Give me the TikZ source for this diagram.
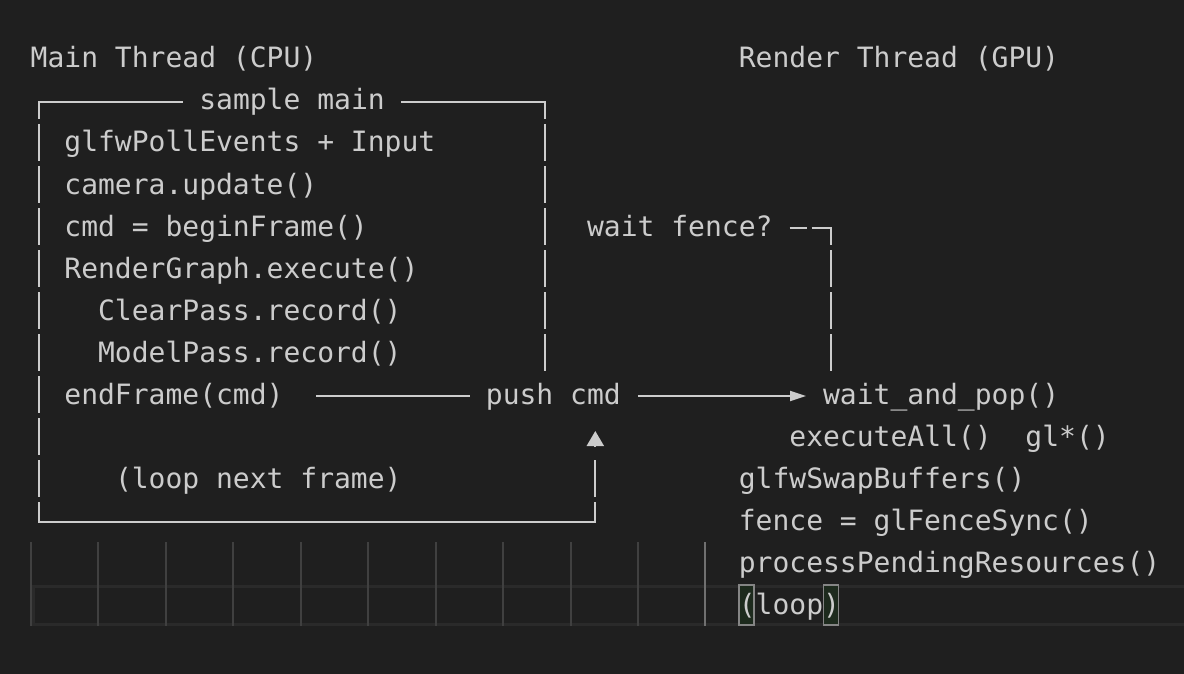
\documentclass[tikz,border=0pt]{standalone}
\usepackage{fontspec}
\setmonofont{DejaVu Sans Mono}
\usetikzlibrary{arrows.meta}

\definecolor{editorbg}{HTML}{1F1F1F}
\definecolor{codefg}{HTML}{CCCCCC}
\definecolor{guide}{HTML}{404040}
\definecolor{guideon}{HTML}{707070}
\definecolor{curline}{HTML}{2A2A2A}
\definecolor{matchbg}{HTML}{1D2A1D}
\definecolor{matchbd}{HTML}{858585}

\newlength\charw \setlength\charw{16.86pt}

\tikzset{
  code/.style={anchor=base west, inner sep=0pt, text=codefg,
    font=\ttfamily\fontsize{28}{42}\selectfont\frenchspacing},
  wire/.style={draw=codefg, line width=2pt, line cap=rect},
  vbar/.style={draw=codefg, line width=2pt, dash pattern=on 37pt off 5pt,
    dash phase=20pt},
  headtip/.style={-{Triangle[length=16pt,width=10pt]}},
  uptip/.style={draw=codefg, line width=2pt, -{Triangle[length=15pt,width=17pt]}}
}

\begin{document}
\begin{tikzpicture}[x=1pt,y=-1pt]
\fill[editorbg] (0,0) rectangle (1184,674);
\useasboundingbox (0,0) rectangle (1184,674);

% editor marks: current line, indent guides, matched brackets
\draw[curline, line width=3pt] (33.5,586) rectangle (1190,624);
\foreach \k in {0,...,9}
  \draw[guide, line width=2pt] ({31+67.44*\k},542) -- ({31+67.44*\k},626);
\draw[guideon, line width=2pt] (705.4,542) -- (705.4,626);
\foreach \c in {42,47}
  \draw[matchbd, fill=matchbg, line width=1.5pt]
    ({30.5+\c*16.86+.5},585) rectangle ({30.5+(\c+1)*16.86-1.5},625);

\foreach \col/\row/\nm/\txt in
{
0/0/mainhd/{Main Thread (CPU)}, 42/0/renderhd/{Render Thread (GPU)},
10/1/title/{sample main},
2/2/poll/{glfwPollEvents + Input}, 2/3/cam/{camera.update()},
2/4/begin/{cmd = beginFrame()}, 33/4/fence/{wait fence?},
2/5/graph/{RenderGraph.execute()}, 4/6/clear/{ClearPass.record()},
4/7/model/{ModelPass.record()},
2/8/endf/{endFrame(cmd)}, 27/8/push/{push cmd}, 47/8/pop/{wait\_and\_pop()},
45/9/exec/{executeAll()}, 59/9/glcall/{gl*()},
5/10/nextf/{(loop next frame)}, 42/10/swap/{glfwSwapBuffers()},
42/11/sync/{fence = glFenceSync()},
42/12/pending/{processPendingResources()},
42/13/again/{(loop)}
}
  \node[code] (\nm) at ({30.5+\col*16.86},{68+\row*42}) {\txt};

% sample main frame
\coordinate (tl) at (38.9,102);
\coordinate (tr) at (544.7,102);
\coordinate (trb) at (544.7,371);
\coordinate (bl) at (38.9,522);
\coordinate (br) at (595.3,522);
\coordinate (ret) at (595.3,460);
\draw[wire] (tl) -- ([xshift=-\charw, yshift=8pt]title.base west);
\draw[wire] ([xshift=\charw, yshift=8pt]title.base east) -- (tr);
\draw[vbar] (tl) -- (bl);
\draw[vbar] (tr) -- (trb);
\draw[wire] (bl) -- (br);
\draw[vbar, dash phase=17pt] (br) -- (ret);
\draw[uptip] ([yshift=13pt]ret) -- ([yshift=29pt]ret);

% queue
\draw[wire] ([xshift=2*\charw, yshift=8pt]endf.base east)
  -- ([xshift=-\charw, yshift=8pt]push.base west);
\draw[wire, line cap=butt, headtip] ([xshift=\charw, yshift=8pt]push.base east)
  -- ([xshift=-\charw, yshift=8pt]pop.base west);
\draw[vbar] ([xshift=\charw, yshift=8pt]fence.base east)
  -| ([xshift=0.5*\charw, yshift=33pt]pop.base west);
\end{tikzpicture}
\end{document}
